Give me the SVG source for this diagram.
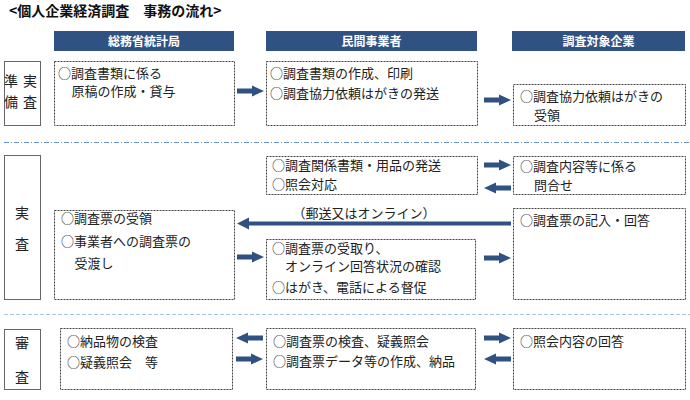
<svg xmlns="http://www.w3.org/2000/svg" xmlns:xlink="http://www.w3.org/1999/xlink" width="690" height="400" viewBox="0 0 690 400">
<style>
text{font-family:"Noto Sans CJK JP","Noto Sans CJK SC",sans-serif;fill:#222;}
.t{font-size:13px;}
.title{font-size:14px;font-weight:bold;fill:#111;}
.hd{fill:#2F5283;}
.ht{font-size:12px;font-weight:bold;fill:#fff;text-anchor:middle;}
.box{fill:#fff;stroke:#444;stroke-width:1;stroke-dasharray:2 1;}
.lb{fill:#fff;stroke:#666;stroke-width:1;}
.lt{font-size:14px;text-anchor:middle;}
.arr{fill:#2F5283;}
</style>
<defs>
<path id="ar" class="arr" d="M0,-2.5 H15 V-5.5 L27,0 L15,5.5 V2.5 H0 Z"/>
</defs>
<rect width="690" height="400" fill="#fff"/>
<text class="title" x="9" y="16">&lt;個人企業経済調査　事務の流れ&gt;</text>

<g id="headers">
<rect class="hd" x="54" y="31" width="180" height="20"/>
<text class="ht" x="144" y="45.5">総務省統計局</text>
<rect class="hd" x="266" y="31" width="211" height="20"/>
<text class="ht" x="371.5" y="45.5">民間事業者</text>
<rect class="hd" x="512" y="31" width="173" height="20"/>
<text class="ht" x="598.5" y="45.5">調査対象企業</text>
</g>

<g id="separators">
<line x1="4" y1="142.5" x2="690" y2="142.5" stroke="#6A94CF" stroke-width="1" stroke-dasharray="5 2 1 2"/>
<line x1="4" y1="314.5" x2="690" y2="314.5" stroke="#A9C4EA" stroke-width="1.2" stroke-dasharray="4 2"/>
</g>

<g id="label-junbi">
<rect class="lb" x="4.5" y="61.5" width="36" height="64"/>
<text class="lt" x="11" y="86">準</text>
<text class="lt" x="11" y="107">備</text>
<text class="lt" x="30" y="86">実</text>
<text class="lt" x="30" y="107">査</text>
</g>
<g id="label-jissa">
<rect class="lb" x="4.5" y="155.5" width="36" height="144"/>
<text class="lt" x="22" y="218">実</text>
<text class="lt" x="22" y="249">査</text>
</g>
<g id="label-shinsa">
<rect class="lb" x="4.5" y="329.5" width="36" height="60"/>
<text class="lt" x="22" y="348">審</text>
<text class="lt" x="22" y="382">査</text>
</g>

<g id="a1">
<rect class="box" x="54.5" y="61.5" width="180" height="64"/>
<text class="t" x="58" y="78">○調査書類に係る</text>
<text class="t" x="71.5" y="96">原稿の作成・貸与</text>
</g>
<g id="b1">
<rect class="box" x="266.5" y="61.5" width="211" height="64"/>
<text class="t" x="270" y="78">○調査書類の作成、印刷</text>
<text class="t" x="270" y="98">○調査協力依頼はがきの発送</text>
</g>
<g id="c1">
<rect class="box" x="513.5" y="84.5" width="172" height="41"/>
<text class="t" x="520" y="101">○調査協力依頼はがきの</text>
<text class="t" x="534" y="120">受領</text>
</g>

<g id="b2a">
<rect class="box" x="266.5" y="156.5" width="211" height="38"/>
<text class="t" x="272" y="170">○調査関係書類・用品の発送</text>
<text class="t" x="272" y="189">○照会対応</text>
</g>
<g id="c2a">
<rect class="box" x="513.5" y="156.5" width="172" height="38"/>
<text class="t" x="520" y="171">○調査内容等に係る</text>
<text class="t" x="534" y="190">問合せ</text>
</g>
<g id="a2">
<rect class="box" x="54.5" y="210.5" width="180" height="89"/>
<text class="t" x="61" y="223">○調査票の受領</text>
<text class="t" x="61" y="246">○事業者への調査票の</text>
<text class="t" x="74.5" y="268">受渡し</text>
</g>
<g id="b2b">
<rect class="box" x="266.5" y="239.5" width="209" height="60"/>
<text class="t" x="272" y="253">○調査票の受取り、</text>
<text class="t" x="285" y="271">オンライン回答状況の確認</text>
<text class="t" x="272" y="292">○はがき、電話による督促</text>
</g>
<g id="c2b">
<rect class="box" x="513.5" y="208.5" width="172" height="91"/>
<text class="t" x="520" y="225">○調査票の記入・回答</text>
</g>

<g id="a3">
<rect class="box" x="60.5" y="328.5" width="172" height="61"/>
<text class="t" x="67" y="346">○納品物の検査</text>
<text class="t" x="67" y="367">○疑義照会　等</text>
</g>
<g id="b3">
<rect class="box" x="266.5" y="328.5" width="209" height="61"/>
<text class="t" x="273" y="346">○調査票の検査、疑義照会</text>
<text class="t" x="273" y="366">○調査票データ等の作成、納品</text>
</g>
<g id="c3">
<rect class="box" x="513.5" y="328.5" width="172" height="61"/>
<text class="t" x="520" y="346">○照会内容の回答</text>
</g>

<g id="connectors">
<use xlink:href="#ar" transform="translate(237,91)"/>
<use xlink:href="#ar" transform="translate(484,100)"/>
<use xlink:href="#ar" transform="translate(484,165)"/>
<use xlink:href="#ar" transform="translate(511,188) scale(-1,1)"/>
<use xlink:href="#ar" transform="translate(237,257)"/>
<use xlink:href="#ar" transform="translate(484,258)"/>
<use xlink:href="#ar" transform="translate(263,338) scale(-1,1)"/>
<use xlink:href="#ar" transform="translate(236,359)"/>
<use xlink:href="#ar" transform="translate(484,338)"/>
<use xlink:href="#ar" transform="translate(511,359) scale(-1,1)"/>
<path class="arr" d="M511,221.5 H249 V217.5 L237,223.5 L249,229.5 V225.5 H511 Z"/>
<text class="t" x="364" y="218" text-anchor="middle">（郵送又はオンライン）</text>
</g>
</svg>
